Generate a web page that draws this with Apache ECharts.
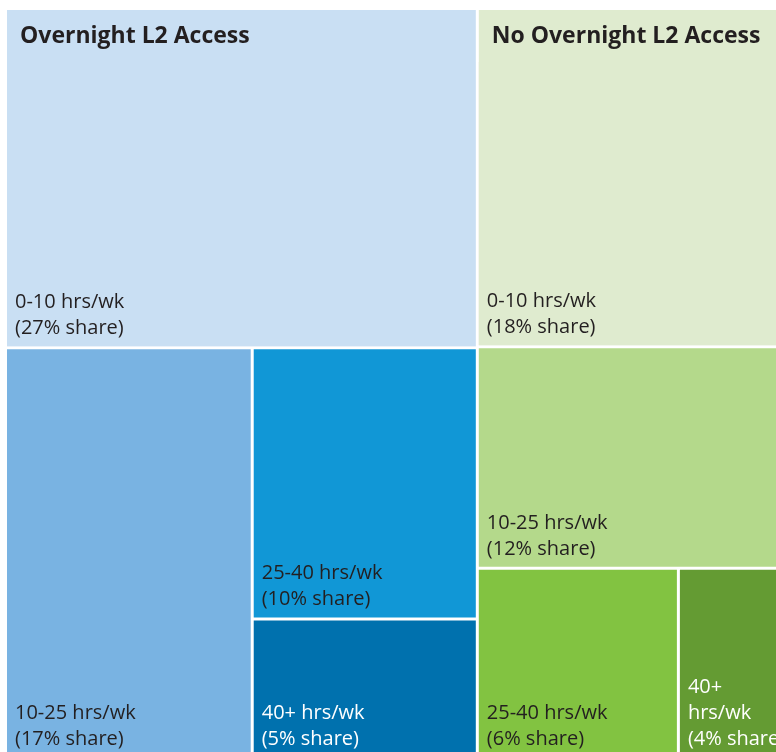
<!DOCTYPE html>
<html>
<head>
<meta charset="utf-8">
<script src="https://cdn.jsdelivr.net/npm/echarts@6/dist/echarts.min.js"></script>
<style>
  html, body { margin: 0; padding: 0; background: #fff; }
  #main { width: 776px; height: 752px; }
</style>
</head>
<body>
<div id="main"></div>
<script>
// groups and hour bands
const groups = ['Overnight L2 Access', 'No Overnight L2 Access'];
const bands = ['0-10 hrs/wk', '10-25 hrs/wk', '25-40 hrs/wk', '40+ hrs/wk'];
// shares (%) read from tile areas, labels show them rounded
const overnightShare = [27, 17.1, 10.3, 5.3];
const noOvernightShare = [17.7, 11.6, 6.45, 3.5];

const overnightColors = ['#c9dff3', '#79b3e2', '#1197d6', '#0071ae'];
const noOvernightColors = ['#dfebcf', '#b4d98b', '#82c341', '#649b33'];
const labelColors = ['#231f20', '#231f20', '#231f20', '#ffffff'];

function shareText(p) {
    return '(' + Math.round(p.value) + '% share)';
}

function buildGroup(title, shares, colors, narrowLast) {
    let children = shares.map(function (v, i) {
        let item = {
            name: bands[i],
            value: v,
            itemStyle: { color: colors[i], borderWidth: 0 },
            label: { color: labelColors[i] }
        };
        if (narrowLast && i === shares.length - 1) {
            // narrow tile: band name split on its space
            item.label.overflow = 'none';
            item.label.formatter = function (p) {
                return p.name.split(' ').join('\n') + '\n' + shareText(p);
            };
        }
        return item;
    });
    // the biggest tile holds the group title in its top strip
    let first = children[0];
    children[0] = {
        name: title,
        itemStyle: { borderColor: colors[0], borderWidth: 0, gapWidth: 0 },
        upperLabel: { show: true },
        children: [first]
    };
    return { name: title, children: children };
}

let chart = echarts.init(document.getElementById('main'));

let option = {
    animation: false,
    series: [{
        type: 'treemap',
        left: 7,
        top: 10,
        width: 779,
        height: 747,
        squareRatio: 1,
        roam: false,
        nodeClick: false,
        breadcrumb: { show: false },
        label: {
            show: true,
            position: 'insideBottomLeft',
            distance: 0,
            padding: [0, 0, 5, 8],
            overflow: 'break',
            fontFamily: 'Open Sans',
            fontSize: 20,
            lineHeight: 26,
            formatter: function (p) {
                return p.name + '\n' + shareText(p);
            }
        },
        upperLabel: {
            show: false,
            height: 52,
            position: [13, '50%'],
            verticalAlign: 'middle',
            color: '#231f20',
            fontFamily: 'Open Sans',
            fontWeight: 'bold',
            fontSize: 23,
            formatter: '{b}'
        },
        levels: [
            { itemStyle: { borderWidth: 0, gapWidth: 3, borderColor: '#fff' } },
            { itemStyle: { borderWidth: 0, gapWidth: 3, borderColor: '#fff' } },
            { itemStyle: { borderWidth: 0 } },
            { itemStyle: { borderWidth: 0 } }
        ],
        data: [
            buildGroup(groups[0], overnightShare, overnightColors, false),
            buildGroup(groups[1], noOvernightShare, noOvernightColors, true)
        ]
    }]
};

chart.setOption(option);
</script>
</body>
</html>
